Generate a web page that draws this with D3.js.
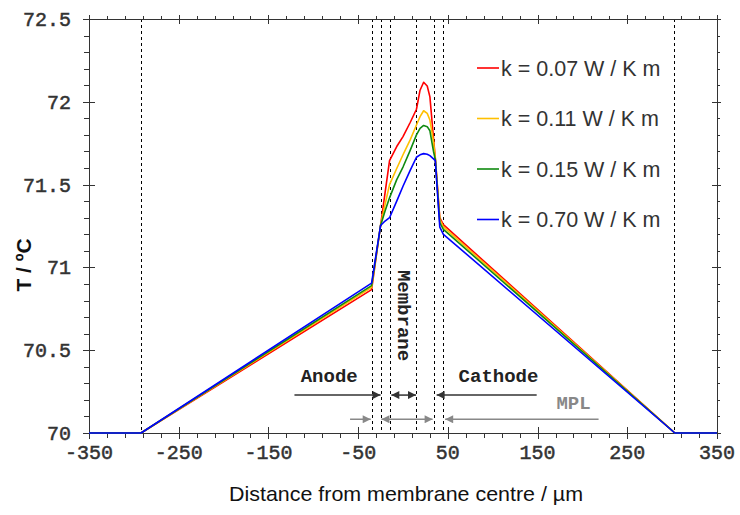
<!DOCTYPE html>
<html><head><meta charset="utf-8">
<script src="https://cdn.jsdelivr.net/npm/d3@7"></script>
<style>body{margin:0;background:#fff}svg{display:block}</style>
</head><body><svg id="c" width="740" height="515"></svg>
<script>
// ---- data ----
const xGrid = [-350, -292, -35, -25, -20, -15, -7, 0, 8, 15, 19, 23, 27, 30, 34, 36, 41, 45, 303, 350];
const seriesNames = ["k = 0.07 W / K m", "k = 0.11 W / K m", "k = 0.15 W / K m", "k = 0.70 W / K m"];
const tRed    = [70, 70, 70.866, 71.253, 71.45, 71.645, 71.73, 71.79, 71.875, 71.955, 72.07, 72.118, 72.095, 72.03, 71.78, 71.66, 71.30, 71.258, 70, 70];
const tYellow = [70, 70, 70.88, 71.253, 71.38, 71.50, 71.597, 71.68, 71.77, 71.86, 71.91, 71.946, 71.93, 71.89, 71.76, 71.66, 71.29, 71.245, 70, 70];
const tGreen  = [70, 70, 70.89, 71.253, 71.34, 71.42, 71.53, 71.606, 71.707, 71.80, 71.84, 71.857, 71.85, 71.825, 71.70, 71.652, 71.27, 71.23, 70, 70];
const tBlue   = [70, 70, 70.905, 71.253, 71.28, 71.30, 71.40, 71.49, 71.586, 71.665, 71.68, 71.687, 71.683, 71.675, 71.655, 71.645, 71.243, 71.20, 70, 70];
const seriesColors = ["#ff0000", "#ffc000", "#108a10", "#0000ff"];
const xTickLabels = [-350, -250, -150, -50, 50, 150, 250, 350];
const yTickLabels = [70, 70.5, 71, 71.5, 72, 72.5];
const layerBounds = [-292, -35, -25, -15, 15, 35, 45, 302];
const regionLabels = ["Anode", "Cathode", "MPL", "Membrane"];

// ---- layout ----
const svg = d3.select("#c");
const L = 89, R = 717, T = 19, B = 433;
const x = d3.scaleLinear().domain([-350, 350]).range([L, R]);
const y = d3.scaleLinear().domain([70, 72.5]).range([B, T]);
const axisCol = "#333";
const mono = "'Liberation Mono','Courier New',monospace";
const sans = "'Liberation Sans',Arial,sans-serif";

// dashed layer boundaries
svg.append("g").selectAll("line").data(layerBounds).join("line")
  .attr("x1", d => Math.round(x(d)) + 0.5).attr("x2", d => Math.round(x(d)) + 0.5)
  .attr("y1", T).attr("y2", B)
  .attr("stroke", "#000").attr("stroke-width", 1).attr("stroke-dasharray", "3,3");

// frame
svg.append("rect").attr("x", L + 0.5).attr("y", T + 0.5).attr("width", R - L).attr("height", B - T)
  .attr("fill", "none").attr("stroke", axisCol).attr("stroke-width", 1);

// ticks
const xMinor = d3.range(-350, 351, 20).filter(v => !xTickLabels.includes(v));
const yMinor = d3.range(0, 26).map(i => +(70 + i * 0.1).toFixed(1)).filter(v => !yTickLabels.includes(v));
const tg = svg.append("g").attr("stroke", axisCol).attr("stroke-width", 1);
xTickLabels.forEach(v => {
  const px = Math.round(x(v)) + 0.5;
  tg.append("line").attr("x1", px).attr("x2", px).attr("y1", B - 6).attr("y2", B + 6);
  tg.append("line").attr("x1", px).attr("x2", px).attr("y1", T - 4).attr("y2", T + 5);
});
xMinor.forEach(v => {
  const px = Math.round(x(v)) + 0.5;
  tg.append("line").attr("x1", px).attr("x2", px).attr("y1", B).attr("y2", B + 5);
  tg.append("line").attr("x1", px).attr("x2", px).attr("y1", T - 3).attr("y2", T);
});
yTickLabels.forEach(v => {
  const py = Math.round(y(v)) + 0.5;
  tg.append("line").attr("x1", L - 6).attr("x2", L + 6).attr("y1", py).attr("y2", py);
  tg.append("line").attr("x1", R - 5).attr("x2", R + 4).attr("y1", py).attr("y2", py);
});
yMinor.forEach(v => {
  const py = Math.round(y(v)) + 0.5;
  tg.append("line").attr("x1", L - 5).attr("x2", L).attr("y1", py).attr("y2", py);
  tg.append("line").attr("x1", R).attr("x2", R + 3).attr("y1", py).attr("y2", py);
});

// tick labels
svg.append("g").selectAll("text").data(xTickLabels).join("text")
  .attr("x", d => x(d)).attr("y", B + 26).attr("text-anchor", "middle")
  .attr("font-family", mono).attr("font-size", 20).attr("fill", "#333")
  .attr("stroke", "#333").attr("stroke-width", 0.5)
  .text(d => d);
svg.append("g").selectAll("text").data(yTickLabels).join("text")
  .attr("x", L - 18).attr("y", d => y(d)).attr("dy", "0.35em").attr("text-anchor", "end")
  .attr("font-family", mono).attr("font-size", 20).attr("fill", "#333")
  .attr("stroke", "#333").attr("stroke-width", 0.5)
  .text(d => String(d));

// axis titles
svg.append("text").attr("x", 406).attr("y", 501).attr("text-anchor", "middle")
  .attr("font-family", sans).attr("font-size", 21).attr("fill", "#111")
  .attr("textLength", 354).attr("lengthAdjust", "spacingAndGlyphs")
  .text("Distance from membrane centre / µm");
svg.append("text").attr("transform", `translate(31,265) rotate(-90)`).attr("text-anchor", "middle")
  .attr("font-family", sans).attr("font-size", 21).attr("font-weight", "bold").attr("fill", "#111")
  .text("T / ºC");

// series lines
const allSeries = [tRed, tYellow, tGreen, tBlue];
const line = d3.line().x((d, i) => x(xGrid[i])).y(d => y(d));
svg.append("g").selectAll("path").data(allSeries).join("path")
  .attr("d", d => line(d)).attr("fill", "none")
  .attr("stroke", (d, i) => seriesColors[i]).attr("stroke-width", 1.6).attr("stroke-linejoin", "round");

// legend
const lg = svg.append("g");
seriesNames.forEach((n, i) => {
  const ly = 68 + i * 50.5;
  lg.append("line").attr("x1", 477).attr("x2", 499).attr("y1", ly).attr("y2", ly)
    .attr("stroke", seriesColors[i]).attr("stroke-width", 1.6);
  lg.append("text").attr("x", 501).attr("y", ly).attr("dy", "0.35em")
    .attr("font-family", sans).attr("font-size", 21.5).attr("fill", "#333")
    .text(n);
});

// arrow markers
const defs = svg.append("defs");
function mk(id, col) {
  defs.append("marker").attr("id", id).attr("viewBox", "0 -5 10 10").attr("refX", 10).attr("refY", 0)
    .attr("markerUnits", "userSpaceOnUse").attr("markerWidth", 9).attr("markerHeight", 8).attr("orient", "auto-start-reverse")
    .append("path").attr("d", "M0,-5L10,0L0,5Z").attr("fill", col);
}
mk("ab", "#333"); mk("ag", "#888");

// annotation arrows (data units)
const blackArrows = [[-121, -25, false], [-13, 14.5, true], [149, 37.5, false]];
const grayArrows = [[-59, -36, false], [-24, 33, true], [218, 47, false]];
const blackY = 70.229, grayY = 70.083;
svg.append("g").selectAll("line").data(blackArrows).join("line")
  .attr("x1", d => x(d[0])).attr("x2", d => x(d[1])).attr("y1", y(blackY)).attr("y2", y(blackY))
  .attr("stroke", "#333").attr("stroke-width", 1.5)
  .attr("marker-end", "url(#ab)").attr("marker-start", d => d[2] ? "url(#ab)" : null);
svg.append("g").selectAll("line").data(grayArrows).join("line")
  .attr("x1", d => x(d[0])).attr("x2", d => x(d[1])).attr("y1", y(grayY)).attr("y2", y(grayY))
  .attr("stroke", "#888").attr("stroke-width", 1.5)
  .attr("marker-end", "url(#ag)").attr("marker-start", d => d[2] ? "url(#ag)" : null);

// region labels
const lab = (t, xv, yv, col) => svg.append("text").attr("x", x(xv)).attr("y", y(yv))
  .attr("font-family", mono).attr("font-size", 19).attr("font-weight", "bold").attr("fill", col).text(t);
lab(regionLabels[0], -114, 70.309, "#222");
lab(regionLabels[1], 62, 70.309, "#222");
lab(regionLabels[2], 171, 70.145, "#888");
svg.append("text").attr("transform", `translate(${x(-5.5)},${y(70.985)}) rotate(90)`)
  .attr("font-family", mono).attr("font-size", 19).attr("font-weight", "bold").attr("fill", "#222")
  .text(regionLabels[3]);
</script></body></html>
